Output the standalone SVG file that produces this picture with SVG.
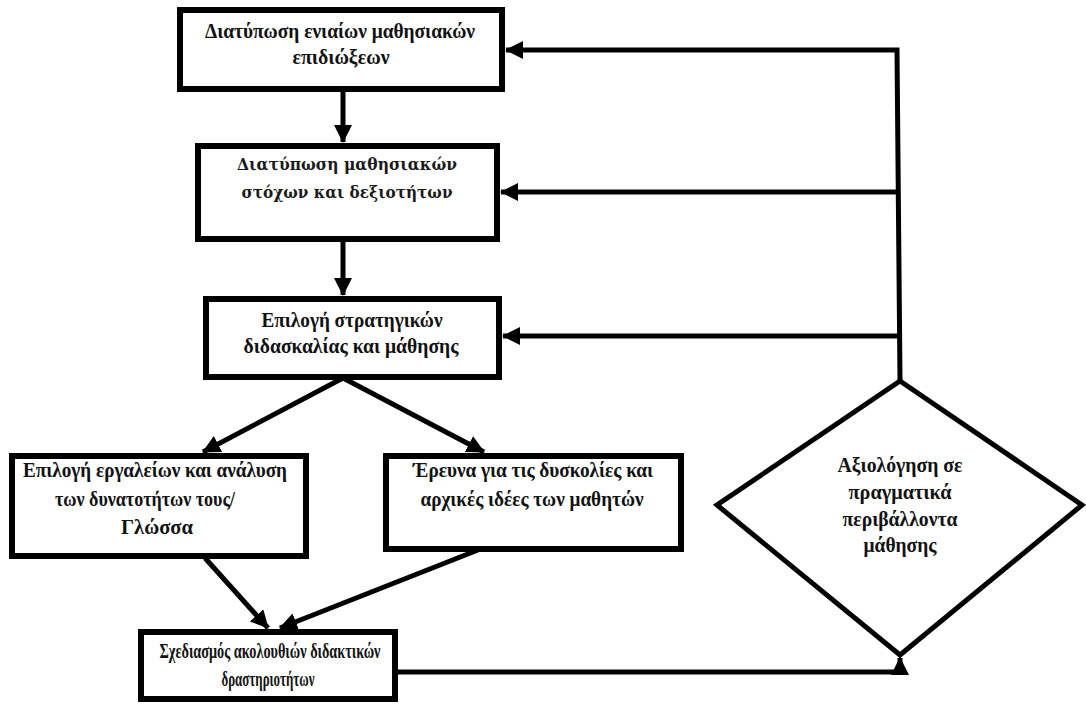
<svg xmlns="http://www.w3.org/2000/svg" width="1086" height="704" viewBox="0 0 1086 704">
<style>
.box{fill:#fff;stroke:#000;stroke-width:6}
.dia{fill:#fff;stroke:#000;stroke-width:5;stroke-linejoin:miter}
.ln{fill:none;stroke:#000;stroke-width:5}
.t{font-family:"Liberation Serif","Times New Roman",serif;font-weight:bold;font-size:20px;fill:#111;text-anchor:middle}
.t2{font-family:"DejaVu Serif","Liberation Serif",serif;font-weight:bold;font-size:17px;fill:#1a1a1a;text-anchor:middle}
.big{font-size:21px}
</style>
<defs>
<marker id="ah" markerUnits="userSpaceOnUse" markerWidth="18" markerHeight="18" viewBox="0 0 18 18" refX="17" refY="9" orient="auto">
<path d="M0,0 L18,9 L0,18 Z" fill="#000"/>
</marker>
</defs>
<rect width="1086" height="704" fill="#fff"/>
<g id="connectors">
<line class="ln" x1="343" y1="90" x2="343" y2="142" marker-end="url(#ah)"/>
<line class="ln" x1="343" y1="240" x2="343" y2="295" marker-end="url(#ah)"/>
<line class="ln" x1="343" y1="378" x2="203" y2="452" marker-end="url(#ah)"/>
<line class="ln" x1="343" y1="378" x2="484" y2="452" marker-end="url(#ah)"/>
<line class="ln" x1="205" y1="558" x2="268" y2="628" marker-end="url(#ah)"/>
<line class="ln" x1="478" y1="550" x2="280" y2="628" marker-end="url(#ah)"/>
<polyline class="ln" points="396,672 900,672 900,658" marker-end="url(#ah)"/>
<polyline class="ln" points="900,380 897,50 506,50" marker-end="url(#ah)"/>
<line class="ln" x1="898" y1="192" x2="501" y2="192" marker-end="url(#ah)"/>
<line class="ln" x1="899" y1="336" x2="503" y2="336" marker-end="url(#ah)"/>
</g>
<g id="n1">
<rect class="box" x="180" y="10" width="322" height="79"/>
<text class="t" x="340" y="38" textLength="270" lengthAdjust="spacingAndGlyphs">Διατύπωση ενιαίων μαθησιακών</text>
<text class="t" x="341" y="64" textLength="97" lengthAdjust="spacingAndGlyphs">επιδιώξεων</text>
</g>
<g id="n2">
<rect class="box" x="198" y="146" width="299" height="93"/>
<text class="t2" x="347" y="170" textLength="220" lengthAdjust="spacingAndGlyphs">Διατύπωση μαθησιακών</text>
<text class="t2" x="347" y="198" textLength="211" lengthAdjust="spacingAndGlyphs">στόχων και δεξιοτήτων</text>
</g>
<g id="n3">
<rect class="box" x="206" y="299" width="293" height="78"/>
<text class="t" x="352" y="327" textLength="181" lengthAdjust="spacingAndGlyphs">Επιλογή στρατηγικών</text>
<text class="t" x="351" y="353" textLength="215" lengthAdjust="spacingAndGlyphs">διδασκαλίας και μάθησης</text>
</g>
<g id="n4">
<rect class="box" x="12" y="456" width="294" height="100"/>
<text class="t" x="155" y="477" textLength="264" lengthAdjust="spacingAndGlyphs">Επιλογή εργαλείων και ανάλυση</text>
<text class="t" x="145" y="506" textLength="180" lengthAdjust="spacingAndGlyphs">των δυνατοτήτων τους/</text>
<text class="t" x="157" y="534" textLength="72" lengthAdjust="spacingAndGlyphs">Γλώσσα</text>
</g>
<g id="n5">
<rect class="box" x="386" y="456" width="295" height="93"/>
<text class="t" x="533" y="477" textLength="240" lengthAdjust="spacingAndGlyphs">Έρευνα για τις δυσκολίες και</text>
<text class="t" x="532" y="506" textLength="223" lengthAdjust="spacingAndGlyphs">αρχικές ιδέες των μαθητών</text>
</g>
<g id="n6">
<rect class="box" x="141" y="632" width="254" height="67"/>
<text class="t big" x="270" y="658" textLength="221" lengthAdjust="spacingAndGlyphs">Σχεδιασμός ακολουθιών διδακτικών</text>
<text class="t big" x="268" y="686" textLength="93" lengthAdjust="spacingAndGlyphs">δραστηριοτήτων</text>
</g>
<g id="n7">
<polygon class="dia" points="900,381 1082,505 900,655 717,505"/>
<text class="t" x="900" y="472" textLength="125" lengthAdjust="spacingAndGlyphs">Αξιολόγηση σε</text>
<text class="t" x="900" y="499" textLength="103" lengthAdjust="spacingAndGlyphs">πραγματικά</text>
<text class="t" x="900" y="526" textLength="115" lengthAdjust="spacingAndGlyphs">περιβάλλοντα</text>
<text class="t" x="900" y="552" textLength="73" lengthAdjust="spacingAndGlyphs">μάθησης</text>
</g>
</svg>
